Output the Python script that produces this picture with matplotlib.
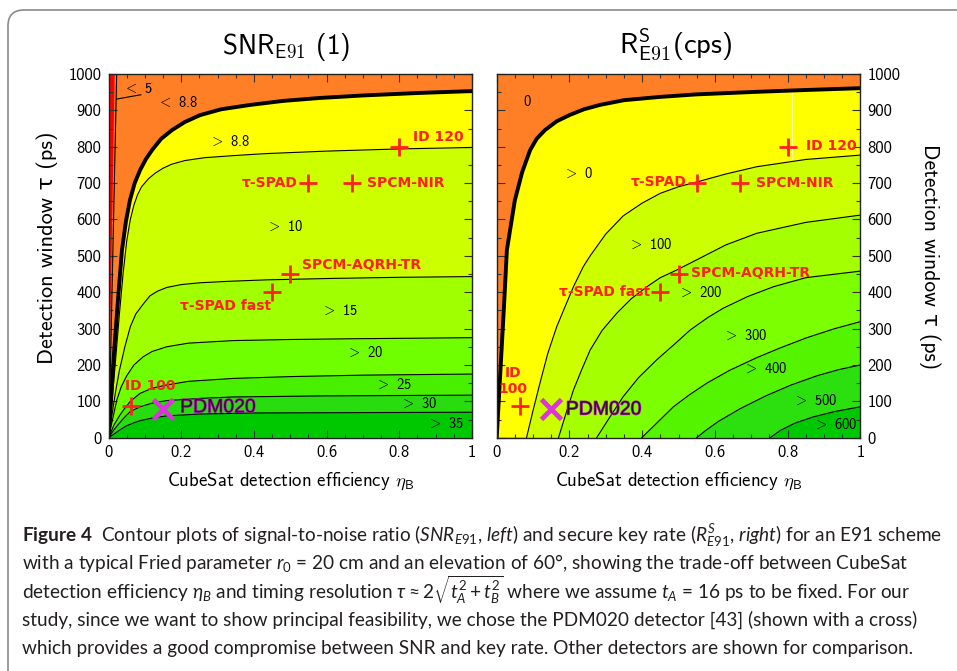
import matplotlib
matplotlib.use("Agg")
import matplotlib.pyplot as plt
from matplotlib.patches import FancyBboxPatch, Polygon
from matplotlib.transforms import IdentityTransform
from matplotlib.ticker import MultipleLocator, FixedLocator, FixedFormatter
import matplotlib.patheffects as pe

CAP_FONT = "Lato"
plt.rcParams["font.family"] = ["cmss10", "DejaVu Sans"]
plt.rcParams["mathtext.fontset"] = "custom"
plt.rcParams["mathtext.rm"] = CAP_FONT
plt.rcParams["mathtext.it"] = CAP_FONT + ":italic"
plt.rcParams["mathtext.bf"] = CAP_FONT + ":bold"

# --- SNR (left panel): contour lines, eta -> tau (ps)
snr_levels = ["8.8", "10", "15", "20", "25", "30", "35"]
snr_eta = [
    [0, 0.007, 0.015, 0.026, 0.037, 0.048, 0.059, 0.072, 0.087, 0.103, 0.12,
     0.145, 0.175, 0.21, 0.252, 0.31, 0.39, 0.48, 0.58, 0.7, 0.857, 1.0],
    [0, 0.01, 0.02, 0.03, 0.04, 0.05, 0.06, 0.07, 0.08, 0.091, 0.11, 0.128,
     0.15, 0.174, 0.21, 0.265, 0.35, 0.43, 0.6, 0.8, 1.0],
    [0, 0.01, 0.02, 0.03, 0.045, 0.06, 0.075, 0.096, 0.114, 0.135, 0.16, 0.2,
     0.252, 0.33, 0.435, 0.618, 0.8, 1.0],
    [0, 0.01, 0.023, 0.035, 0.05, 0.07, 0.096, 0.12, 0.16, 0.22, 0.343, 0.5,
     0.664, 1.0],
    [0, 0.015, 0.03, 0.041, 0.06, 0.087, 0.12, 0.16, 0.22, 0.343, 0.5, 0.7, 1.0],
    [0, 0.015, 0.03, 0.041, 0.06, 0.087, 0.12, 0.16, 0.25, 0.343, 0.6, 1.0],
    [0, 0.015, 0.032, 0.05, 0.07, 0.087, 0.12, 0.16, 0.25, 0.4, 0.7, 1.0],
]
snr_tau = [
    [0, 104, 230, 378, 515, 595, 653, 700, 736, 766, 791, 822, 846, 868, 887,
     903, 915, 926, 934, 941, 948, 953],
    [0, 105, 220, 340, 450, 540, 600, 640, 668, 690, 712, 727, 741, 752, 762,
     770, 776, 781, 788, 794, 798],
    [0, 65, 130, 185, 250, 305, 340, 368, 390, 403, 413, 421, 426, 430, 434,
     438, 441, 443],
    [0, 45, 104, 140, 170, 200, 223, 237, 250, 260, 267, 270, 272, 275],
    [0, 35, 60, 76, 100, 122, 136, 145, 155, 163, 168, 172, 175],
    [0, 22, 40, 53, 72, 85, 95, 102, 108, 112, 115, 117],
    [0, 10, 22, 33, 41, 47, 54, 60, 65, 68, 69, 70],
]
snr5_eta = [0.001, 0.0225]
snr5_tau = [0, 1000]
snr_red_eta = [0, 0.017, 0]
snr_red_tau = [0, 1000, 1000]

# --- secure key rate (right panel), cps
rate_levels = ["0", "100", "200", "300", "400", "500", "600"]
rate_eta = [
    [0, 0.01, 0.02, 0.028, 0.05, 0.07, 0.092, 0.11, 0.133, 0.165, 0.2, 0.24,
     0.284, 0.35, 0.449, 0.55, 0.715, 0.85, 1.0],
    [0.082, 0.1, 0.119, 0.14, 0.165, 0.19, 0.211, 0.238, 0.257, 0.3, 0.348,
     0.4, 0.45, 0.5, 0.55, 0.63, 0.715, 0.85, 1.0],
    [0.17, 0.19, 0.211, 0.235, 0.257, 0.29, 0.33, 0.37, 0.413, 0.45, 0.495,
     0.55, 0.63, 0.715, 0.85, 1.0],
    [0.275, 0.31, 0.348, 0.39, 0.44, 0.49, 0.532, 0.58, 0.623, 0.69, 0.761,
     0.85, 1.0],
    [0.399, 0.44, 0.486, 0.53, 0.578, 0.64, 0.715, 0.78, 0.853, 0.93, 1.0],
    [0.55, 0.575, 0.61, 0.67, 0.74, 0.81, 0.88, 0.94, 1.0],
    [0.752, 0.78, 0.82, 0.87, 0.93, 1.0],
]
rate_tau = [
    [0, 180, 360, 516, 653, 730, 791, 822, 846, 870, 887, 903, 915, 928, 937,
     944, 951, 956, 961],
    [0, 75, 150, 230, 305, 365, 415, 470, 500, 560, 610, 645, 672, 690, 703,
     725, 745, 765, 777],
    [0, 65, 131, 190, 241, 295, 342, 382, 415, 440, 461, 489, 530, 562, 592,
     612],
    [0, 55, 113, 165, 214, 258, 296, 330, 356, 388, 415, 440, 458],
    [0, 40, 85, 118, 150, 185, 220, 247, 275, 300, 319],
    [0, 20, 45, 80, 115, 145, 170, 187, 200],
    [0, 20, 40, 57, 72, 85],
]

# --- detectors
det_names = ["ID 120", "τ-SPAD", "SPCM-NIR", "SPCM-AQRH-TR", "τ-SPAD fast", "ID 100"]
det_eta = [0.80, 0.55, 0.67, 0.50, 0.45, 0.063]
det_tau = [800, 700, 700, 450, 400, 87]
pdm_eta = 0.15
pdm_tau = 78

# --- layout / styles
snr_colors = ["#ff7f27", "#ffff00", "#ccff00", "#a0ff00", "#70ff00",
              "#48f000", "#28dc10", "#00c800"]
rate_colors = ["#ff7f27", "#ffff00", "#ccff00", "#a4ff00", "#7cff00",
               "#54f400", "#2ce010", "#00c800"]
RED = "#ff2020"

W, H = 957, 671


def fx(px):
    return px / W


def fy(py):
    return 1 - py / H


fig = plt.figure(figsize=(W / 100, H / 100), dpi=100)
ax1 = fig.add_axes([fx(108.5), fy(437.7), 363.5 / W, 363.7 / H])
ax2 = fig.add_axes([fx(496.7), fy(437.7), 363.6 / W, 363.7 / H])


def draw_panel(ax, etas, taus, colors):
    ax.set_facecolor(colors[0])
    for i, (e, t) in enumerate(zip(etas, taus)):
        pts = list(zip(e, t)) + [(1.0, 0.0)]
        ax.add_patch(Polygon(pts, closed=True, fc=colors[i + 1], ec="none",
                             zorder=1))
    for i, (e, t) in enumerate(zip(etas, taus)):
        lw = 2.8 if i == 0 else 0.8
        ax.plot(e, t, color="black", lw=lw, zorder=2, solid_joinstyle="round")


def style_axes(ax, right=False):
    ax.set_xlim(0, 1)
    ax.set_ylim(0, 1000)
    ax.xaxis.set_major_locator(FixedLocator([0, 0.2, 0.4, 0.6, 0.8, 1.0]))
    ax.xaxis.set_major_formatter(FixedFormatter(["0", "0.2", "0.4", "0.6", "0.8", "1"]))
    ax.xaxis.set_minor_locator(MultipleLocator(0.05))
    ax.yaxis.set_major_locator(MultipleLocator(100))
    ax.yaxis.set_minor_locator(MultipleLocator(50))
    ax.tick_params(which="both", direction="in", top=True, right=True,
                   left=True, bottom=True, color="#333333", width=0.8)
    ax.tick_params(which="major", length=6, labelsize=12, pad=5)
    ax.tick_params(which="minor", length=3)
    if right:
        ax.tick_params(labelleft=False, labelright=True)
    for sp in ax.spines.values():
        sp.set_color("#222222")
        sp.set_linewidth(1.0)
        sp.set_zorder(6)


# left panel
ax1.add_patch(Polygon(list(zip(snr_red_eta, snr_red_tau)), closed=True,
                      fc="#ff0000", ec="none", zorder=1.5))
draw_panel(ax1, snr_eta, snr_tau, snr_colors)
ax1.plot(snr5_eta, snr5_tau, color="black", lw=0.8, zorder=2)
ax1.plot([0.0225, 0.089], [931, 943], color="black", lw=0.8, zorder=2)
style_axes(ax1)

snr_label_text = [r"$<$ 5", r"$<$ 8.8", r"$>$ 8.8", r"$>$ 10", r"$>$ 15",
                  r"$>$ 20", r"$>$ 25", r"$>$ 30", r"$>$ 35"]
snr_label_xy = [(0.08, 959), (0.19, 923), (0.334, 813), (0.486, 581),
                (0.637, 350), (0.706, 233), (0.783, 147), (0.852, 95),
                (0.926, 38)]
for s, (x, y) in zip(snr_label_text, snr_label_xy):
    ax1.text(x, y, s, fontsize=10.5, ha="center", va="center",
             math_fontfamily="cm", zorder=4)

# right panel
draw_panel(ax2, rate_eta, rate_tau, rate_colors)
ax2.plot([0.813, 0.813], [765, 950], color="white", lw=0.6, alpha=0.8, zorder=1.8)
style_axes(ax2, right=True)

rate_label_text = ["0", r"$>$ 0", r"$>$ 100", r"$>$ 200", r"$>$ 300",
                   r"$>$ 400", r"$>$ 500", r"$>$ 600"]
rate_label_xy = [(0.083, 922), (0.224, 725), (0.422, 532), (0.56, 400),
                 (0.683, 282), (0.738, 191), (0.875, 103), (0.93, 35)]
for s, (x, y) in zip(rate_label_text, rate_label_xy):
    ax2.text(x, y, s, fontsize=10.5, ha="center", va="center",
             math_fontfamily="cm", zorder=4)

# detector markers and names
left_lbl = [((0.838, 827), "left"), ((0.519, 700), "right"),
            ((0.711, 700), "left"), ((0.532, 475), "left"),
            ((0.322, 362), "center"), ((0.046, 142), "left")]
right_lbl = [((0.85, 802), "left"), ((0.521, 703), "right"),
             ((0.713, 700), "left"), ((0.534, 453), "left"),
             ((0.422, 400), "right"), ((0.045, 156), "center")]
for ax, lbls, pdm_xy in [(ax1, left_lbl, (0.197, 82)), (ax2, right_lbl, (0.19, 76))]:
    ax.plot(det_eta, det_tau, ls="none", marker="+", ms=13, mew=2,
            color=RED, zorder=5)
    ax.plot([pdm_eta], [pdm_tau], ls="none", marker="x", ms=15, mew=3.5,
            color="#dd33dd", zorder=5)
    for i, name in enumerate(det_names):
        (x, y), ha = lbls[i]
        if ax is ax2 and name == "ID 100":
            name = "ID\n100"
        ax.text(x, y, name, color=RED, fontsize=10, fontweight="bold",
                family="DejaVu Sans", ha=ha, va="center", zorder=5,
                linespacing=1.1)
    ax.text(pdm_xy[0], pdm_xy[1], "PDM020", color="#3e063e", fontsize=14,
            family="Liberation Sans", ha="left", va="center", zorder=5,
            path_effects=[pe.withStroke(linewidth=0.9, foreground="#b02ab0")])

# titles and axis labels
fig.text(fx(286), fy(47), r"SNR$_{\mathsf{E91}}$ (1)", fontsize=19.5,
         ha="center", va="center", math_fontfamily="cm")
fig.text(fx(676), fy(45), r"R$^{\mathsf{S}}_{\mathsf{E91}}$(cps)", fontsize=20.5,
         ha="center", va="center", math_fontfamily="cm")
for cx in (291, 679):
    fig.text(fx(cx), fy(481), r"CubeSat detection efficiency $\eta_{\mathsf{B}}$",
             fontsize=13.5, ha="center", va="center", math_fontfamily="cm")
fig.text(fx(47), fy(248), "Detection window τ (ps)", fontsize=16,
         rotation=90, ha="center", va="center")
fig.text(fx(930), fy(257), "Detection window τ (ps)", fontsize=15.5,
         rotation=270, ha="center", va="center")

# caption
caption = [
    r"$\mathbf{Figure\ 4}$  Contour plots of signal-to-noise ratio ($SNR_{E91}$, $left$) "
    r"and secure key rate ($R^{S}_{E91}$, $right$) for an E91 scheme",
    r"with a typical Fried parameter $r_0$ = 20 cm and an elevation of 60°, "
    r"showing the trade-off between CubeSat",
    r"detection efficiency $\eta_B$ and timing resolution $\tau \approx 2\sqrt{t_A^2 + t_B^2}$ "
    r"where we assume $t_A$ = 16 ps to be fixed. For our",
    "study, since we want to show principal feasibility, we chose the PDM020 "
    "detector [43] (shown with a cross)",
    "which provides a good compromise between SNR and key rate. Other detectors "
    "are shown for comparison.",
]
baselines = [542, 569, 598.5, 626, 654]
cap_texts = []
for line, yb in zip(caption, baselines):
    cap_texts.append(fig.text(fx(22), fy(yb), line, fontsize=14,
                              family=[CAP_FONT, "DejaVu Sans"],
                              ha="left", va="baseline", color="#231f20"))
renderer = fig.canvas.get_renderer()
w0 = cap_texts[0].get_window_extent(renderer).width
scale = 924.0 / w0
for t in cap_texts:
    t.set_fontsize(14 * scale)

# rounded frame
frame = FancyBboxPatch((8, -40), 1100, 661 + 40,
                       boxstyle="round,pad=0,rounding_size=16",
                       transform=IdentityTransform(), ec="#8a8a8a",
                       fc="none", lw=1.2)
fig.add_artist(frame)

fig.savefig("out.png", dpi=100)
